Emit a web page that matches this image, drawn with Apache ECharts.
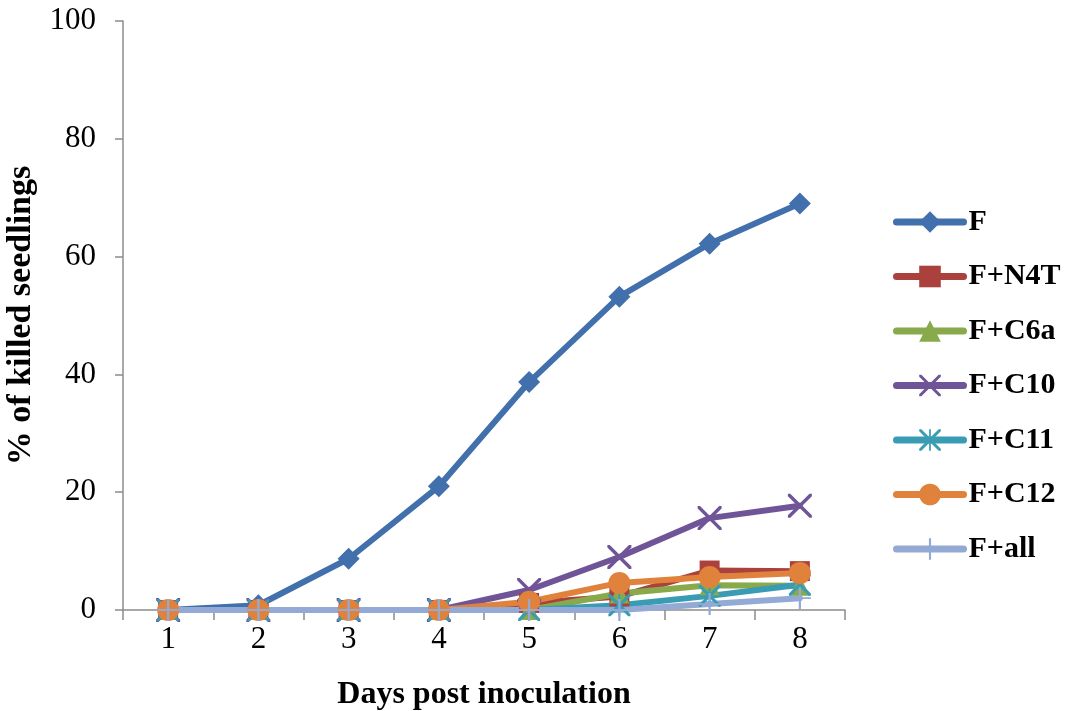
<!DOCTYPE html>
<html>
<head>
<meta charset="utf-8">
<script src="https://cdn.jsdelivr.net/npm/echarts@6/dist/echarts.min.js"></script>
<style>html,body{margin:0;padding:0;background:#fff;}#c{width:1067px;height:711px;}</style>
</head>
<body>
<div id="c"></div>
<script>
var days = ['1','2','3','4','5','6','7','8'];
var yTicks = [0,20,40,60,80,100];
var seriesNames = ['F','F+N4T','F+C6a','F+C10','F+C11','F+C12','F+all'];
var vF    = [0, 0.8, 8.7, 21, 38.7, 53.2, 62.2, 69];
var vN4T  = [0, 0, 0, 0, 1.2, 2.3, 6.7, 6.6];
var vC6a  = [0, 0, 0, 0, 0, 2.8, 4.2, 4.1];
var vC10  = [0, 0, 0, 0, 3.4, 9.0, 15.6, 17.7];
var vC11  = [0, 0, 0, 0, 0, 0.8, 2.4, 4.3];
var vC12  = [0, 0, 0, 0, 1.4, 4.6, 5.6, 6.3];
var vAll  = [0, 0, 0, 0, 0, 0, 1.0, 2.0];
var allValues = [vF, vN4T, vC6a, vC10, vC11, vC12, vAll];

var colors = ['#4170AC', '#AA413D', '#88AA4A', '#6F5597', '#3A9BB5', '#E0823B', '#93AAD4'];
var xPath = 'path://M0,0 L1.0,0 L10,9.0 L10,10 L9.0,10 L0,1.0 Z M9.0,0 L10,0 L10,1.0 L1.0,10 L0,10 L0,9.0 Z';
var starPath = 'path://M0,0 L1.0,0 L10,9.0 L10,10 L9.0,10 L0,1.0 Z M9.0,0 L10,0 L10,1.0 L1.0,10 L0,10 L0,9.0 Z M4.6,0 L5.4,0 L5.4,10 L4.6,10 Z';
var plusPath = 'path://M4.5,0 L5.5,0 L5.5,10 L4.5,10 Z M0,4.6 L10,4.6 L10,5.4 L0,5.4 Z';
var symbols = ['diamond', 'rect', 'triangle', xPath, starPath, 'circle', plusPath];
var sizes = [22, 20, 20, 24, 22, 22, 22];

var font = '"Liberation Serif","Times New Roman",serif';
var chart = echarts.init(document.getElementById('c'));
var series = seriesNames.map(function(n, i){
  return {
    name: n, type: 'line', data: allValues[i],
    symbol: symbols[i], symbolSize: sizes[i],
    showAllSymbol: true,
    lineStyle: {color: colors[i], width: 6, cap: 'round', join: 'round'},
    itemStyle: {color: colors[i]},
    emphasis: {disabled: true},
    animation: false
  };
});
chart.setOption({
  animation: false,
  color: colors,
  grid: {left: 123, right: 222, top: 21, bottom: 101, containLabel: false, outerBoundsMode: 'none'},
  legend: {
    orient: 'vertical', left: 888, top: 202,
    itemWidth: 67, itemHeight: 27, itemGap: 24.5,
    data: seriesNames,
    lineStyle: {width: 7, cap: 'round'},
    textStyle: {fontFamily: font, fontWeight: 'bold', fontSize: 30, color: '#000'}
  },
  xAxis: {
    type: 'category', data: days, boundaryGap: true,
    name: 'Days post inoculation', nameLocation: 'middle', nameGap: 69,
    nameTextStyle: {fontFamily: font, fontWeight: 'bold', fontSize: 32, color: '#000'},
    axisLine: {lineStyle: {color: '#8c8c8c', width: 1.5}},
    axisTick: {show: true, length: 10, lineStyle: {color: '#8c8c8c', width: 1.5}},
    axisLabel: {fontFamily: font, fontSize: 31, color: '#000', margin: 14}
  },
  yAxis: {
    type: 'value', min: 0, max: 100, interval: 20,
    name: '% of killed seedlings', nameLocation: 'middle', nameGap: 81,
    nameTextStyle: {fontFamily: font, fontWeight: 'bold', fontSize: 34, color: '#000'},
    axisLine: {show: true, lineStyle: {color: '#8c8c8c', width: 1.5}},
    axisTick: {show: true, length: 8, lineStyle: {color: '#8c8c8c', width: 1.5}},
    splitLine: {show: false},
    axisLabel: {fontFamily: font, fontSize: 31, color: '#000', margin: 27,
      formatter: function(v){ return yTicks.indexOf(v) >= 0 ? String(v) : ''; }}
  },
  series: series
});
</script>
</body>
</html>
